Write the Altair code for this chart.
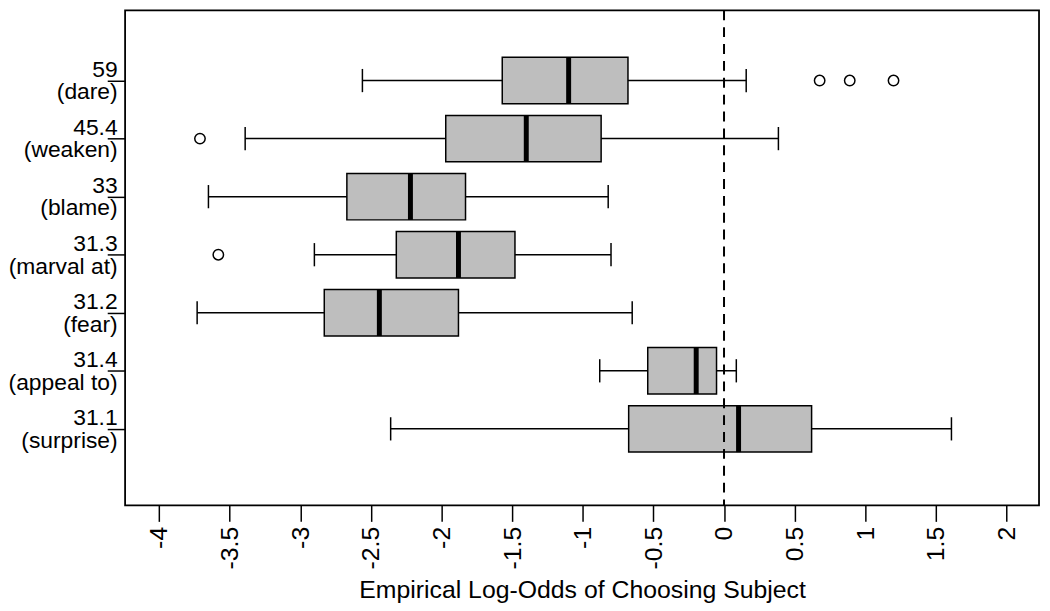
import altair as alt
import pandas as pd

# ---- data ----
classes = ["59", "45.4", "33", "31.3", "31.2", "31.4", "31.1"]
verbs = ["dare", "weaken", "blame", "marval at", "fear", "appeal to", "surprise"]
whisker_lo = [-2.56, -3.39, -3.65, -2.90, -3.73, -0.88, -2.36]
q1 = [-1.57, -1.97, -2.67, -2.32, -2.83, -0.54, -0.675]
median = [-1.10, -1.40, -2.22, -1.88, -2.44, -0.197, 0.103]
q3 = [-0.68, -0.87, -1.83, -1.48, -1.88, -0.053, 0.62]
whisker_hi = [0.157, 0.385, -0.82, -0.80, -0.65, 0.087, 1.61]

outlier_verbs = ["dare", "dare", "dare", "weaken", "marval at"]
outlier_values = [0.677, 0.89, 1.20, -3.71, -3.58]

x_ticks = [-4, -3.5, -3, -2.5, -2, -1.5, -1, -0.5, 0, 0.5, 1, 1.5, 2]
x_title = "Empirical Log-Odds of Choosing Subject"
reference_line = [0]

n = len(verbs)
pos = [n - i for i in range(n)]  # top row = dare

boxes = pd.DataFrame({
    "verb": verbs, "cls": classes, "pos": pos,
    "lo": whisker_lo, "q1": q1, "med": median, "q3": q3, "hi": whisker_hi,
})
pos_of = dict(zip(verbs, pos))
outliers = pd.DataFrame({
    "verb": outlier_verbs,
    "value": outlier_values,
    "pos": [pos_of[v] for v in outlier_verbs],
})
ref = pd.DataFrame({"x0": reference_line})

# multi-line y labels: class number over verb
label_expr = "".join(
    f"datum.value == {p} ? ['{c}', '({v})'] : " for p, c, v in zip(pos, classes, verbs)
) + "''"

FONT = "Liberation Sans"

x_scale = alt.Scale(domain=[-4.24, 2.23], nice=False, zero=False)
y_scale = alt.Scale(domain=[-0.32, 8.21], nice=False, zero=False)

x_axis = alt.Axis(
    values=x_ticks, labelExpr="toString(datum.value)", title=x_title,
    orient="bottom", grid=False, domain=False, tickSize=16, tickWidth=1.5,
    tickColor="black", labelAngle=270, labelAlign="right", labelBaseline="middle",
    labelPadding=5, labelFontSize=25, labelColor="black", labelFont=FONT,
    labelOverlap=False, labelFlush=False, titleFont=FONT, titleFontSize=25,
    titleFontWeight="normal", titleColor="black", titlePadding=9,
)
y_axis = alt.Axis(
    values=pos, labelExpr=label_expr, title=None, grid=False, domain=False,
    tickSize=18, tickWidth=1.5, tickColor="black", labelAlign="right",
    labelBaseline="middle", labelPadding=-10, labelOffset=-11.5, labelFontSize=23,
    labelLineHeight=23, labelColor="black", labelFont=FONT, labelOverlap=False,
    labelFlush=False,
)

base = alt.Chart(boxes)

whiskers = base.mark_rule(color="black", strokeWidth=1.5).encode(
    x=alt.X("lo:Q", scale=x_scale, axis=x_axis),
    x2="hi:Q",
    y=alt.Y("pos:Q", scale=y_scale, axis=y_axis),
)

caps_lo = base.transform_calculate(
    c0="datum.pos - 0.2", c1="datum.pos + 0.2"
).mark_rule(color="black", strokeWidth=1.5).encode(
    x=alt.X("lo:Q", scale=x_scale, axis=x_axis),
    y=alt.Y("c0:Q", scale=y_scale, axis=y_axis),
    y2="c1:Q",
)
caps_hi = base.transform_calculate(
    c0="datum.pos - 0.2", c1="datum.pos + 0.2"
).mark_rule(color="black", strokeWidth=1.5).encode(
    x=alt.X("hi:Q", scale=x_scale, axis=x_axis),
    y=alt.Y("c0:Q", scale=y_scale, axis=y_axis),
    y2="c1:Q",
)

box = base.transform_calculate(
    b0="datum.pos - 0.4", b1="datum.pos + 0.4"
).mark_rect(fill="#BEBEBE", stroke="black", strokeWidth=1.5).encode(
    x=alt.X("q1:Q", scale=x_scale, axis=x_axis),
    x2="q3:Q",
    y=alt.Y("b0:Q", scale=y_scale, axis=y_axis),
    y2="b1:Q",
)

med = base.transform_calculate(
    b0="datum.pos - 0.4", b1="datum.pos + 0.4"
).mark_rule(color="black", strokeWidth=5).encode(
    x=alt.X("med:Q", scale=x_scale, axis=x_axis),
    y=alt.Y("b0:Q", scale=y_scale, axis=y_axis),
    y2="b1:Q",
)

pts = alt.Chart(outliers).mark_point(
    shape="circle", filled=False, color="black", strokeWidth=1.5, size=110, opacity=1
).encode(
    x=alt.X("value:Q", scale=x_scale, axis=x_axis),
    y=alt.Y("pos:Q", scale=y_scale, axis=y_axis),
)

zero = alt.Chart(ref).mark_rule(color="black", strokeWidth=2, strokeDash=[10, 7]).encode(
    x=alt.X("x0:Q", scale=x_scale, axis=x_axis),
)

chart = alt.layer(whiskers, caps_lo, caps_hi, box, med, pts, zero).properties(
    width=921, height=499,
    autosize=alt.AutoSizeParams(type="none"),
    padding={"left": 118, "top": 0, "right": 3, "bottom": 103},
).configure(
    background="white",
    view=alt.ViewConfig(stroke="black", strokeWidth=1.8),
)

chart.save("out.html", embed_options={"renderer": "svg", "actions": False})
